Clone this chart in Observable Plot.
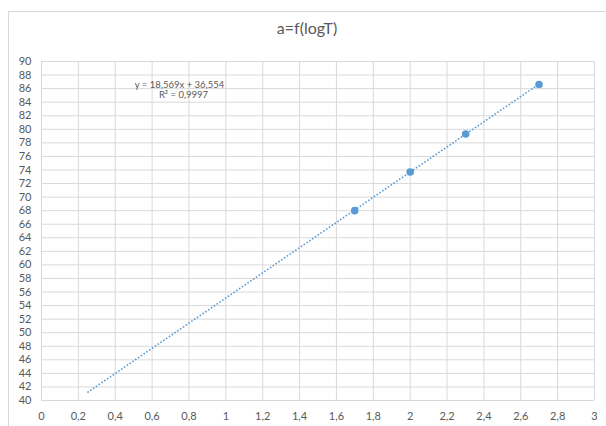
<!DOCTYPE html>
<html>
<head>
<meta charset="utf-8">
<script src="https://cdn.jsdelivr.net/npm/d3@7"></script>
<script src="https://cdn.jsdelivr.net/npm/@observablehq/plot@0.6"></script>
<style>
  html, body { margin: 0; padding: 0; background: #fff; }
  body { width: 606px; height: 426px; position: relative; overflow: hidden; font-family: Lato, "Open Sans", sans-serif; }
  #frame { position: absolute; left: 8px; top: 11px; width: 700px; height: 500px; border: 1px solid #d9d9d9; box-sizing: border-box; }
  #title { position: absolute; left: 0; top: 0; width: 614px; height: 50px; line-height: 56px; text-align: center; font-size: 16px; color: #595959; }
  #chart { position: absolute; left: 0; top: 50px; }
</style>
</head>
<body>
<div id="frame"></div>
<div id="title">a=f(logT)</div>
<div id="chart"></div>
<script>
// Data
const logT = [1.699, 2, 2.301, 2.699];
const aValues = [68.0, 73.7, 79.3, 86.6];
// Trendline (Excel linear fit shown on the chart)
const trendSlope = 18.569;
const trendIntercept = 36.554;
const trendXRange = [0.249, 2.699];
const equationLines = ["y = 18,569x + 36,554", "R² = 0,9997"];
// Tick values
const xTicks = [0, 0.2, 0.4, 0.6, 0.8, 1, 1.2, 1.4, 1.6, 1.8, 2, 2.2, 2.4, 2.6, 2.8, 3];
const yTicks = [40, 42, 44, 46, 48, 50, 52, 54, 56, 58, 60, 62, 64, 66, 68, 70, 72, 74, 76, 78, 80, 82, 84, 86, 88, 90];

const points = logT.map((x, i) => ({x, y: aValues[i]}));
const trend = trendXRange.map(x => ({x, y: trendSlope * x + trendIntercept}));
const fmt = d => String(d).replace(".", ",");
const blue = "#5b9bd5";
const grid = "#d9d9d9";

const chart = Plot.plot({
  width: 606,
  height: 376,
  marginTop: 11,
  marginBottom: 26,
  marginLeft: 41,
  marginRight: 12,
  style: { fontFamily: "Lato, 'Open Sans', sans-serif", fontSize: "11px", color: "#595959", background: "transparent" },
  x: { domain: [0, 3], ticks: xTicks, tickFormat: fmt, tickSize: 0, tickPadding: 12, label: null },
  y: { domain: [40, 90], ticks: yTicks, tickFormat: fmt, tickSize: 0, tickPadding: 10, label: null },
  marks: [
    Plot.gridX(xTicks, { stroke: grid, strokeOpacity: 1, strokeWidth: 1 }),
    Plot.gridY(yTicks, { stroke: grid, strokeOpacity: 1, strokeWidth: 1 }),
    Plot.axisX({ ticks: xTicks, tickFormat: fmt, tickSize: 0, tickPadding: 12, fill: "#595959" }),
    Plot.axisY({ ticks: yTicks, tickFormat: fmt, tickSize: 0, tickPadding: 10, fill: "#595959" }),
    Plot.line(trend, { x: "x", y: "y", stroke: blue, strokeWidth: 1.6, strokeDasharray: "1.6 1.8", strokeLinecap: "butt" }),
    Plot.dot(points, { x: "x", y: "y", r: 3.8, fill: blue, stroke: "none" }),
    Plot.text([equationLines[0]], { frameAnchor: "top-left", lineAnchor: "middle", dx: 138, dy: 23, text: d => d, textAnchor: "middle", fontSize: 9.5, fill: "#595959" }),
    Plot.text([equationLines[1]], { frameAnchor: "top-left", lineAnchor: "middle", dx: 142, dy: 33, text: d => d, textAnchor: "middle", fontSize: 9.5, fill: "#595959" })
  ]
});
document.getElementById("chart").appendChild(chart);
</script>
</body>
</html>
